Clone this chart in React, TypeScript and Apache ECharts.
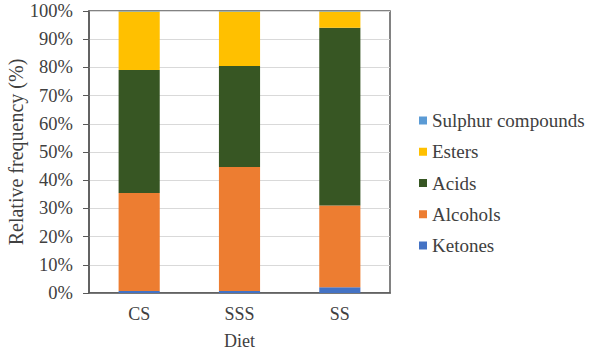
import React, { useEffect, useRef } from "react";
import * as echarts from "echarts";

const categories = ["CS", "SSS", "SS"];
const ketones = [0.7, 0.7, 2.0];
const alcohols = [34.8, 44.0, 29.0];
const acids = [43.6, 35.8, 63.1];
const esters = [20.7, 19.3, 5.7];
const sulphur = [0.2, 0.2, 0.2];
const legendOrder = ["Sulphur compounds", "Esters", "Acids", "Alcohols", "Ketones"];

const FONT = "Liberation Serif";
const TXT = "#404040";

export default function App() {
  const ref = useRef<HTMLDivElement>(null);
  useEffect(() => {
    if (!ref.current) return;
    const chart = echarts.init(ref.current, undefined, { renderer: "svg" });
    const mk = (name: string, data: number[], color: string) => ({
      name,
      type: "bar",
      stack: "total",
      data,
      barWidth: "41%",
      itemStyle: { color },
    });
    chart.setOption({
      animation: false,
      backgroundColor: "#ffffff",
      textStyle: { fontFamily: FONT },
      grid: {
        left: 89,
        right: 200,
        top: 11,
        bottom: 59,
        containLabel: false,
        outerBoundsMode: "none",
        show: true,
        borderColor: "#595959",
        borderWidth: 1.5,
        backgroundColor: "transparent",
      },
      legend: {
        orient: "vertical",
        left: 414,
        top: 106,
        itemWidth: 8,
        itemHeight: 8,
        itemGap: 12.25,
        icon: "rect",
        data: legendOrder,
        textStyle: { fontFamily: FONT, fontSize: 19, color: TXT, lineHeight: 19 },
      },
      xAxis: {
        type: "category",
        data: categories,
        name: "Diet",
        nameLocation: "middle",
        nameGap: 39,
        nameMoveOverlap: false,
        nameTextStyle: { fontFamily: FONT, fontSize: 18, color: TXT },
        axisLine: { lineStyle: { color: "#595959", width: 1.5 } },
        axisTick: { show: false },
        axisLabel: { fontFamily: FONT, fontSize: 18, color: TXT, margin: 12 },
      },
      yAxis: {
        type: "value",
        min: 0,
        max: 100,
        interval: 10,
        name: "Relative frequency (%)",
        nameLocation: "middle",
        nameGap: 63,
        nameMoveOverlap: false,
        nameTextStyle: { fontFamily: FONT, fontSize: 20, color: TXT },
        axisLine: { show: true, lineStyle: { color: "#595959", width: 1.5 } },
        axisTick: { show: true, inside: false, length: 6, lineStyle: { color: "#595959" } },
        axisLabel: { fontFamily: FONT, fontSize: 18.5, color: TXT, margin: 16, formatter: "{value}%" },
        splitLine: { lineStyle: { color: "#d9d9d9", width: 1 } },
      },
      series: [
        mk("Ketones", ketones, "#4472C4"),
        mk("Alcohols", alcohols, "#ED7D31"),
        mk("Acids", acids, "#375623"),
        mk("Esters", esters, "#FFC000"),
        mk("Sulphur compounds", sulphur, "#5B9BD5"),
      ],
    });
    return () => chart.dispose();
  }, []);
  return (
    <div
      ref={ref}
      style={{ position: "fixed", left: 0, top: 0, width: 590, height: 352 }}
    />
  );
}
